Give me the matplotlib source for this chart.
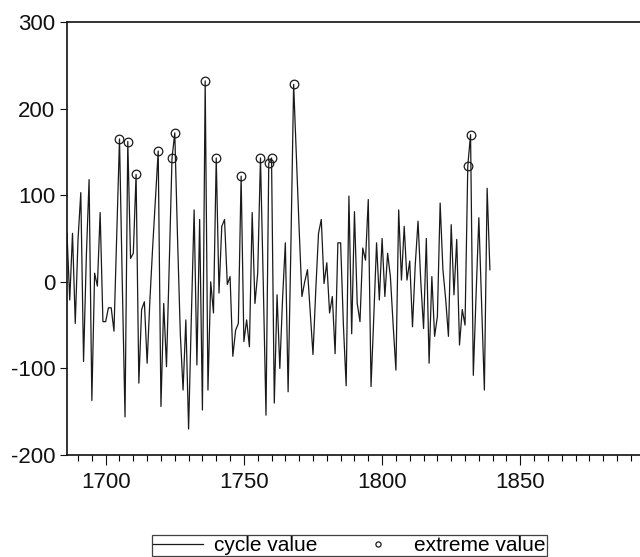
import matplotlib
matplotlib.use('Agg')
import matplotlib.pyplot as plt
import numpy as np
from matplotlib.ticker import MultipleLocator

plt.rcParams['font.family'] = ['Liberation Sans', 'DejaVu Sans']
plt.rcParams['axes.unicode_minus'] = False

# yearly cycle values, 1686 - 1839
start_year = 1686
cycle = [
    56, -21, 56, -48, 49, 103, -92, 29, 118, -137,          # 1686-1695
    10, -5, 80, -46, -46, -30, -30, -57, 55, 165,           # 1696-1705
    0, -156, 162, 27, 33, 124, -117, -32, -23, -94,         # 1706-1715
    -21, 40, 95, 151, -144, -25, -98, 20, 143, 172,         # 1716-1725
    50, -60, -125, -44, -170, -40, 83, -96, 72, -148,       # 1726-1735
    232, -125, 0, -36, 143, -13, 64, 72, -3, 6,             # 1736-1745
    -86, -56, -48, 122, -69, -44, -75, 80, -25, 10,         # 1746-1755
    143, 0, -154, 137, 143, -140, -15, -100, -19, 45,       # 1756-1765
    -127, 40, 228, 145, 60, -17, 0, 14, -35, -84,           # 1766-1775
    -10, 56, 72, -2, 22, -36, -17, -83, 45, 45,             # 1776-1785
    -50, -120, 99, -60, 81, -25, -46, 39, 25, 95,           # 1786-1795
    -121, -40, 45, -21, 50, -17, 33, 6, -50, -102,          # 1796-1805
    83, 2, 64, 2, 24, -52, 20, 70, 0, -54,                  # 1806-1815
    50, -94, 6, -63, -40, 91, 14, -20, -63, 66,             # 1816-1825
    -15, 49, -73, -32, -50, 134, 170, -108, -15, 74,        # 1826-1835
    -25, -125, 108, 14,                                     # 1836-1839
]
years = np.arange(start_year, start_year + len(cycle))

extreme_years = [1705, 1708, 1711, 1719, 1724, 1725, 1736, 1740, 1749,
                 1756, 1759, 1760, 1768, 1831, 1832]

cycle = np.array(cycle, dtype=float)
ext_idx = [int(y - start_year) for y in extreme_years]

fig = plt.figure(figsize=(6.4, 5.57), dpi=100)
ax = fig.add_axes([0.104, 0.1831, 0.896, 0.7774])

ax.plot(years, cycle, color='#1a1a1a', lw=0.9, label='cycle value')
ax.plot(years[ext_idx], cycle[ext_idx], 'o', ms=6.2, mfc='none', mec='#1a1a1a',
        mew=0.9, label='extreme value')

ax.set_xlim(1685.85, 1893.3)
ax.set_ylim(-200, 300)
ax.set_yticks([-200, -100, 0, 100, 200, 300])
ax.xaxis.set_major_locator(MultipleLocator(50))
ax.xaxis.set_minor_locator(MultipleLocator(5))

ax.spines['right'].set_visible(False)
for s in ['left', 'bottom', 'top']:
    ax.spines[s].set_linewidth(1.2)
    ax.spines[s].set_color('#111111')

ax.tick_params(axis='y', direction='out', length=5, width=0.8, pad=3,
               labelsize=16, colors='#111111')
ax.tick_params(axis='x', which='major', direction='out', length=7, width=0.8,
               pad=5, labelsize=16, colors='#111111')
ax.tick_params(axis='x', which='minor', direction='out', length=4, width=0.8)

leg = fig.legend(loc='upper left', bbox_to_anchor=(0.237, 0.039), ncol=2,
                 fontsize=15, frameon=True, fancybox=False, edgecolor='#111111',
                 handlelength=2.4, columnspacing=1.7, borderpad=0.05,
                 borderaxespad=0, markerscale=0.6, handletextpad=0.55)
leg.get_frame().set_linewidth(0.9)

fig.savefig('out.png', dpi=100)
